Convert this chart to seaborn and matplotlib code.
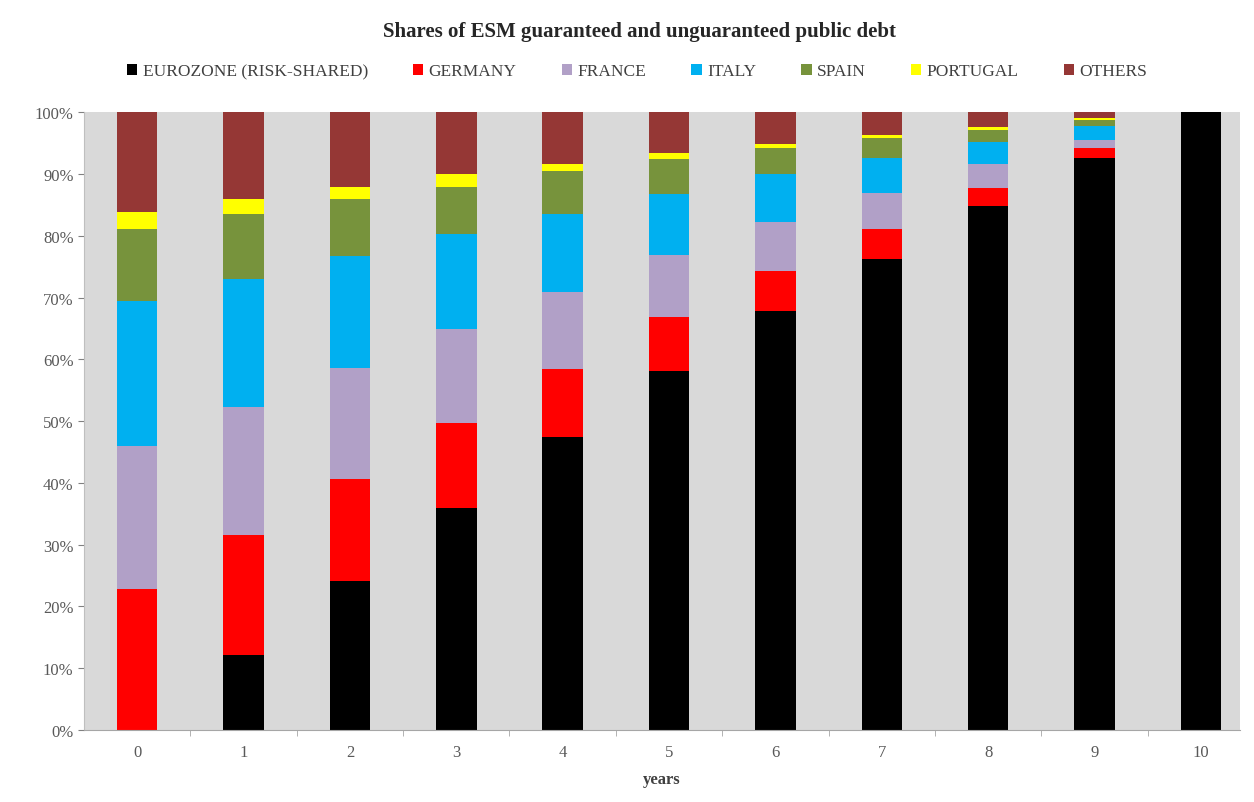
import numpy as np
import pandas as pd
import seaborn as sns
import matplotlib.pyplot as plt
from matplotlib.patches import Patch
from matplotlib.ticker import FixedLocator

# Daten (Anteile in %)
years = [0, 1, 2, 3, 4, 5, 6, 7, 8, 9, 10]
eurozone = [0, 12.1, 24.1, 35.9, 47.4, 58.1, 67.9, 76.3, 84.8, 92.7, 100]
germany = [22.8, 19.5, 16.5, 13.8, 11.1, 8.7, 6.4, 4.8, 3.0, 1.6, 0]
france = [23.2, 20.7, 18.0, 15.2, 12.4, 10.1, 7.9, 5.8, 3.8, 1.2, 0]
italy = [23.5, 20.7, 18.1, 15.4, 12.6, 9.9, 7.9, 5.8, 3.6, 2.3, 0]
spain = [11.7, 10.6, 9.3, 7.7, 7.0, 5.6, 4.2, 3.2, 2.0, 1.0, 0]
portugal = [2.7, 2.4, 2.0, 2.0, 1.1, 1.1, 0.6, 0.5, 0.5, 0.3, 0]
others = [16.1, 14.0, 12.0, 10.0, 8.4, 6.5, 5.1, 3.6, 2.3, 0.9, 0]

labels = ["Eurozone (risk-shared)", "Germany", "France", "Italy",
          "Spain", "Portugal", "Others"]
series = [eurozone, germany, france, italy, spain, portugal, others]
colors = ["#000000", "#FF0000", "#B1A0C7", "#00B0F0", "#77933C",
          "#FFFF00", "#953735"]

sns.set_style("white")
plt.rcParams["font.family"] = ["Liberation Serif", "DejaVu Serif"]

fig = plt.figure(figsize=(12.54, 8.03), dpi=100)
ax = fig.add_axes([0.067, 0.0897, 0.922, 0.769])
ax.set_facecolor("#D9D9D9")

bottom = np.zeros(len(years))
for lab, vals, col in zip(labels, series, colors):
    sns.barplot(x=years, y=vals, bottom=bottom, color=col, saturation=1,
                width=0.38, ax=ax, linewidth=0)
    bottom = bottom + np.array(vals)

ax.set_xlim(-0.5, 10.37)
ax.set_ylim(0, 100)
ax.set_yticks(np.arange(0, 101, 10))
ax.set_yticklabels([f"{v}%" for v in range(0, 101, 10)])
ax.tick_params(axis="y", colors="#808080", labelsize=12, length=4,
               width=0.8, left=True, labelcolor="#595959")
ax.tick_params(axis="x", labelsize=12, length=0, pad=10, labelcolor="#595959")
ax.xaxis.set_minor_locator(FixedLocator(np.arange(0.5, 10, 1)))
ax.tick_params(axis="x", which="minor", length=4, color="#A6A6A6", bottom=True)

for s in ["top", "right"]:
    ax.spines[s].set_visible(False)
ax.spines["left"].set_color("#BFBFBF")
ax.spines["bottom"].set_color("#A6A6A6")

ax.set_xlabel("years", fontsize=12, fontweight="bold", color="#404040",
              labelpad=8)
ax.set_ylabel("")

fig.suptitle("Shares of ESM guaranteed and unguaranteed public debt",
             x=0.51, y=0.972, fontsize=15, fontweight="bold", color="#262626")

handles = [Patch(facecolor=c, edgecolor="none") for c in colors]
fig.legend(handles, [l.upper() for l in labels], loc="center",
           bbox_to_anchor=(0.508, 0.91), ncol=7, frameon=False, fontsize=12.5,
           handlelength=0.6, handleheight=0.6, handletextpad=0.3,
           columnspacing=2.6, labelcolor="#404040")

fig.savefig("out.png", dpi=100)
